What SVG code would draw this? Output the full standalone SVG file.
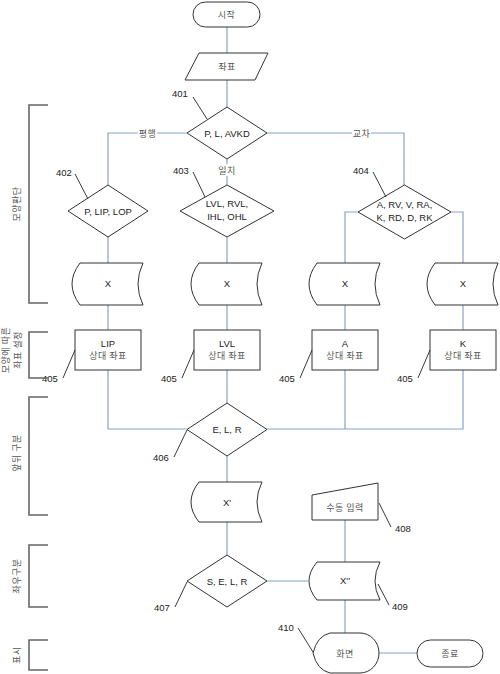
<svg xmlns="http://www.w3.org/2000/svg" width="500" height="674" viewBox="0 0 500 674">
<style>
.s{fill:#fff;stroke:#333;stroke-width:1}
.c{fill:none;stroke:#86a3c8;stroke-width:1.2}
.ld{fill:none;stroke:#222;stroke-width:0.9}
.br{fill:none;stroke:#666;stroke-width:1.6}
.t{font-family:"Liberation Sans",Arial,sans-serif;font-size:9.5px;fill:#222;text-anchor:middle}
.k{font-family:"Noto Sans CJK KR","Noto Sans",sans-serif;font-size:9px;fill:#555;text-anchor:middle;letter-spacing:0.5px}
.n{font-family:"Liberation Sans",Arial,sans-serif;font-size:9.5px;fill:#222}
</style>
<rect width="500" height="674" fill="#fff"/>
<g id="connectors">
<path class="c" d="M227,27V53M227,80V107M187,133H108V185M266,133H404V185M227,159V185M108,237V263M227,237V263M358,212H345V263M451,212H463V263M108,305V330M227,305V330M345,305V330M463,305V330M108,370V429H187M227,370V403M463,370V429H266M345,370V429M227,456V482M227,522V555M266,581H308M345,520V562M345,600V633M378,653H417"/>
<rect x="138" y="127" width="19" height="12" fill="#fff"/>
<text class="k" x="147.5" y="136.5">평행</text>
<rect x="352" y="127" width="19" height="12" fill="#fff"/>
<text class="k" x="361.5" y="136.5">교차</text>
<rect x="218" y="164" width="18" height="12" fill="#fff"/>
<text class="k" x="227" y="173.5">일치</text>
</g>
<g id="start"><rect class="s" x="193" y="2" width="67" height="25" rx="12.5"/><text class="k" x="226.5" y="18">시작</text></g>
<g id="coord"><polygon class="s" points="199,53 268,53 255,80 185,80"/><text class="k" x="227" y="70">좌표</text></g>
<g id="n401"><polygon class="s" points="227,107 267,133 227,159 187,133"/><text class="t" x="227" y="136.5">P, L, AVKD</text></g>
<g id="n402"><polygon class="s" points="108,185 148,211 108,237 68,211"/><text class="t" x="108" y="214.5">P, LIP, LOP</text></g>
<g id="n403"><polygon class="s" points="227,185 274,211 227,237 180,211"/><text class="t" x="227" y="207">LVL, RVL,</text><text class="t" x="227" y="220">IHL, OHL</text></g>
<g id="n404"><polygon class="s" points="404.5,185 451,212 404.5,239 358,212"/><text class="t" x="404.5" y="208">A, RV, V, RA,</text><text class="t" x="404.5" y="221">K, RD, D, RK</text></g>
<g id="x1"><path class="s" d="M80,263H143Q133,284 143,305H80Q64,284 80,263Z"/><text class="t" x="108" y="287">X</text></g>
<g id="x2"><path class="s" d="M199,263H262Q252,284 262,305H199Q183,284 199,263Z"/><text class="t" x="227" y="287">X</text></g>
<g id="x3"><path class="s" d="M317,263H380Q370,284 380,305H317Q301,284 317,263Z"/><text class="t" x="345" y="287">X</text></g>
<g id="x4"><path class="s" d="M435,263H498Q488,284 498,305H435Q419,284 435,263Z"/><text class="t" x="463" y="287">X</text></g>
<g id="p1"><rect class="s" x="75" y="330" width="66" height="40"/><text class="t" x="108" y="347">LIP</text><text class="k" x="108" y="359">상대 좌표</text></g>
<g id="p2"><rect class="s" x="194" y="330" width="66" height="40"/><text class="t" x="227" y="347">LVL</text><text class="k" x="227" y="359">상대 좌표</text></g>
<g id="p3"><rect class="s" x="312" y="330" width="66" height="40"/><text class="t" x="345" y="347">A</text><text class="k" x="345" y="359">상대 좌표</text></g>
<g id="p4"><rect class="s" x="430" y="330" width="66" height="40"/><text class="t" x="463" y="347">K</text><text class="k" x="463" y="359">상대 좌표</text></g>
<g id="n406"><polygon class="s" points="227,403 267,429.5 227,456 187,429.5"/><text class="t" x="227" y="433">E, L, R</text></g>
<g id="xp"><path class="s" d="M199,482H262Q252,502 262,522H199Q183,502 199,482Z"/><text class="t" x="227" y="506">X'</text></g>
<g id="n407"><polygon class="s" points="227,555 267,581 227,607 187,581"/><text class="t" x="227" y="584.5">S, E, L, R</text></g>
<g id="n408"><polygon class="s" points="312,495 378,483 378,520 312,520"/><text class="k" x="345" y="511">수동 입력</text></g>
<g id="n409"><path class="s" d="M317,562H380Q370,581 380,600H317Q301,581 317,562Z"/><text class="t" x="345" y="584">X''</text></g>
<g id="n410"><path class="s" d="M313,653Q317,636 330,633H360A19,20 0 0 1 360,673H330Q317,670 313,653Z"/><text class="k" x="345" y="656.5">화면</text></g>
<g id="end"><rect class="s" x="417" y="640" width="66" height="27" rx="13.5"/><text class="k" x="450" y="656.5">종료</text></g>
<g id="refs">
<path class="ld" d="M193,97L207,119M75,174L88,199M193,172L205,197M373,172L386,197M63,378L75,350M182,378L194,350M300,378L312,350M418,378L430,350M174,457L187,430M175,607L187,582M379,503L391,527M378,584L389,605M298,628L313,652"/>
<text class="n" x="172" y="97">401</text>
<text class="n" x="56" y="176">402</text>
<text class="n" x="173" y="174">403</text>
<text class="n" x="353" y="174">404</text>
<text class="n" x="42" y="382">405</text>
<text class="n" x="161" y="382">405</text>
<text class="n" x="279" y="382">405</text>
<text class="n" x="397" y="382">405</text>
<text class="n" x="153" y="461">406</text>
<text class="n" x="154" y="611">407</text>
<text class="n" x="395" y="532">408</text>
<text class="n" x="392" y="610">409</text>
<text class="n" x="278" y="631">410</text>
</g>
<g id="brackets">
<path class="br" d="M48,105H29V303H48M48,332H29V378H48M48,397H29V515H48M48,545H29V607H48M48,640H29V670H48"/>
<text class="k" transform="translate(20,204) rotate(-90)">모양판단</text>
<text class="k" transform="translate(9,350) rotate(-90)">모양에 따른</text>
<text class="k" transform="translate(21,350) rotate(-90)">좌표 설정</text>
<text class="k" transform="translate(20,453) rotate(-90)">앞뒤 구분</text>
<text class="k" transform="translate(20,576) rotate(-90)">좌우구분</text>
<text class="k" transform="translate(20,655) rotate(-90)">표시</text>
</g>
</svg>
